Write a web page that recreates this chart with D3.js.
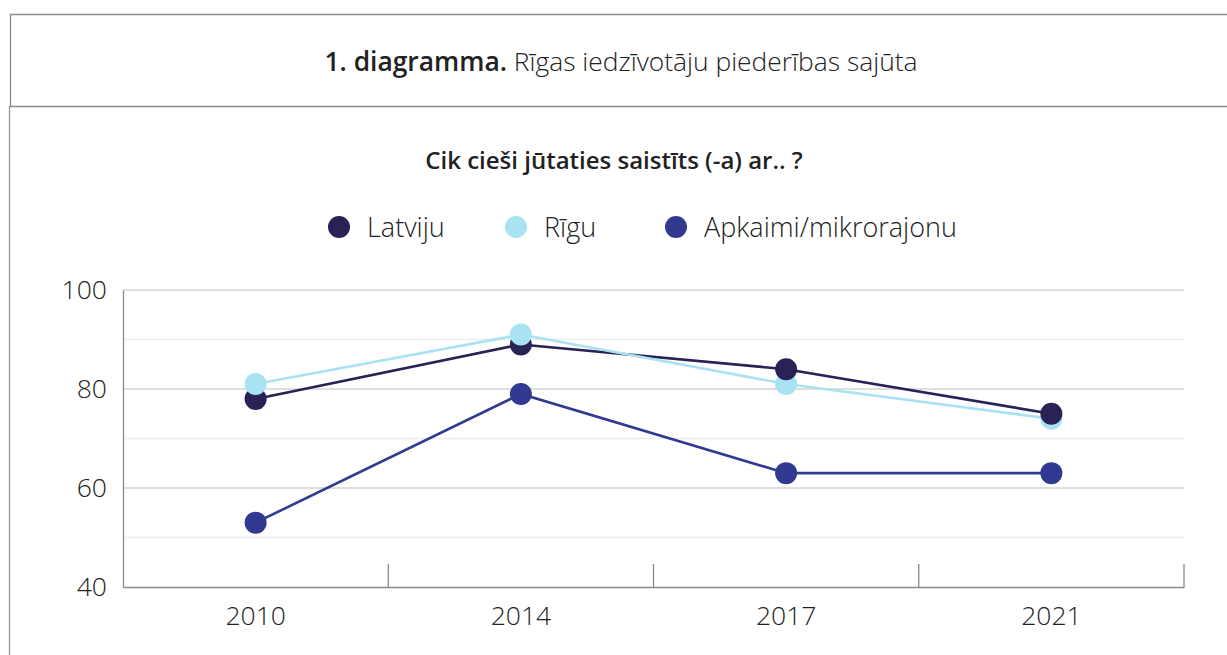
<!DOCTYPE html>
<html>
<head>
<meta charset="utf-8">
<script src="https://cdn.jsdelivr.net/npm/d3@7"></script>
<style>
  body { margin: 0; background: #fff; }
  text { font-family: "Open Sans", Lato, sans-serif; fill: #222; }
</style>
</head>
<body>
<div id="chart"></div>
<script>
// data
var years = ["2010", "2014", "2017", "2021"];
var seriesNames = ["Latviju", "Rīgu", "Apkaimi/mikrorajonu"];
var seriesColors = ["#292254", "#a9e2f1", "#313a90"];
var latviju = [78, 89, 84, 75];
var rigu = [81, 91, 81, 74];
var apkaimi = [53, 79, 63, 63];
var yTicks = [40, 60, 80, 100];
var yMinorTicks = [50, 70, 90];

var series = [latviju, rigu, apkaimi].map(function(vals, i) {
    return { name: seriesNames[i], color: seriesColors[i], values: vals };
});

var W = 1227, H = 655;
var margin = {top: 290, right: 43, bottom: 68, left: 123};
var width = W - margin.left - margin.right,
    height = H - margin.top - margin.bottom;

var svg = d3.select("#chart").append("svg")
    .attr("width", W)
    .attr("height", H);

// title frame
svg.append("path")
    .attr("d", "M1227,14.5H10.5V106.5H1227")
    .attr("fill", "none")
    .attr("stroke", "#8a8a8a")
    .attr("stroke-width", 1.3);
svg.append("line")
    .attr("x1", 9.5).attr("x2", 9.5)
    .attr("y1", 106).attr("y2", H)
    .attr("stroke", "#9a9a9a")
    .attr("stroke-width", 1.3);

var title = svg.append("text")
    .attr("x", 621)
    .attr("y", 71)
    .attr("text-anchor", "middle")
    .style("font-size", "26.4px");
title.append("tspan").style("font-weight", "600").text("1. diagramma.");
title.append("tspan").style("font-weight", "300").text(" Rīgas iedzīvotāju piederības sajūta");

svg.append("text")
    .attr("x", 614)
    .attr("y", 169)
    .attr("text-anchor", "middle")
    .style("font-size", "24px")
    .style("font-weight", "600")
    .text("Cik cieši jūtaties saistīts (-a) ar.. ?");

// legend
var legendX = [339, 516, 676];
var legend = svg.selectAll(".legend")
    .data(series)
    .enter().append("g")
    .attr("class", "legend")
    .attr("transform", function(d, i) { return "translate(" + legendX[i] + ",227)"; });
legend.append("circle")
    .attr("r", 11)
    .attr("fill", function(d) { return d.color; });
legend.append("text")
    .attr("x", 28)
    .attr("y", 10)
    .style("font-size", "27px")
    .style("font-weight", "300")
    .text(function(d) { return d.name; });

var g = svg.append("g")
    .attr("transform", "translate(" + margin.left + "," + margin.top + ")");

var xScale = d3.scaleBand()
    .domain(years)
    .range([0, width]);

var yScale = d3.scaleLinear()
    .domain([40, 100])
    .range([height, 0]);

// grid
g.selectAll(".minor")
    .data(yMinorTicks)
    .enter().append("line")
    .attr("x1", 0).attr("x2", width)
    .attr("y1", function(d) { return yScale(d); })
    .attr("y2", function(d) { return yScale(d); })
    .attr("stroke", "#ececec")
    .attr("stroke-width", 1.3);
g.selectAll(".major")
    .data(yTicks.slice(1))
    .enter().append("line")
    .attr("x1", 0).attr("x2", width)
    .attr("y1", function(d) { return yScale(d); })
    .attr("y2", function(d) { return yScale(d); })
    .attr("stroke", "#d4d4d4")
    .attr("stroke-width", 1.3);

// y axis
var yAxis = d3.axisLeft(yScale).tickValues(yTicks).tickSize(0).tickPadding(16);
var yG = g.append("g").call(yAxis);
yG.select(".domain").attr("stroke", "#8a8a8a").attr("stroke-width", 1.3);
yG.selectAll("text").style("font-size", "26.5px").attr("fill", "#2a2a2a")
    .style("font-family", "'Open Sans', sans-serif").style("font-weight", "300");

// x axis
var xAxis = d3.axisBottom(xScale).tickSize(0).tickPadding(19);
var xG = g.append("g").attr("transform", "translate(0," + height + ")").call(xAxis);
xG.select(".domain").attr("stroke", "#8a8a8a").attr("stroke-width", 1.3);
xG.selectAll("text").style("font-size", "26.5px").attr("fill", "#2a2a2a")
    .style("font-family", "'Open Sans', sans-serif").style("font-weight", "300");

// category separator ticks
g.selectAll(".sep")
    .data(years.slice(1).concat(["end"]))
    .enter().append("line")
    .attr("x1", function(d, i) { return xScale.step() * (i + 1); })
    .attr("x2", function(d, i) { return xScale.step() * (i + 1); })
    .attr("y1", height - 23)
    .attr("y2", height)
    .attr("stroke", "#8a8a8a")
    .attr("stroke-width", 1.3);

var line = d3.line()
    .x(function(d, i) { return xScale(years[i]) + xScale.bandwidth() / 2; })
    .y(function(d) { return yScale(d); });

g.selectAll(".series-line")
    .data(series)
    .enter().append("path")
    .attr("d", function(d) { return line(d.values); })
    .attr("fill", "none")
    .attr("stroke", function(d) { return d.color; })
    .attr("stroke-width", 2.6);

// markers: higher value drawn on top within each year
var points = [];
series.forEach(function(s) {
    s.values.forEach(function(v, i) {
        points.push({ year: years[i], value: v, color: s.color });
    });
});
points.sort(function(a, b) { return a.value - b.value; });

g.selectAll(".dot")
    .data(points)
    .enter().append("circle")
    .attr("cx", function(d) { return xScale(d.year) + xScale.bandwidth() / 2; })
    .attr("cy", function(d) { return yScale(d.value); })
    .attr("r", 11)
    .attr("fill", function(d) { return d.color; });
</script>
</body>
</html>
